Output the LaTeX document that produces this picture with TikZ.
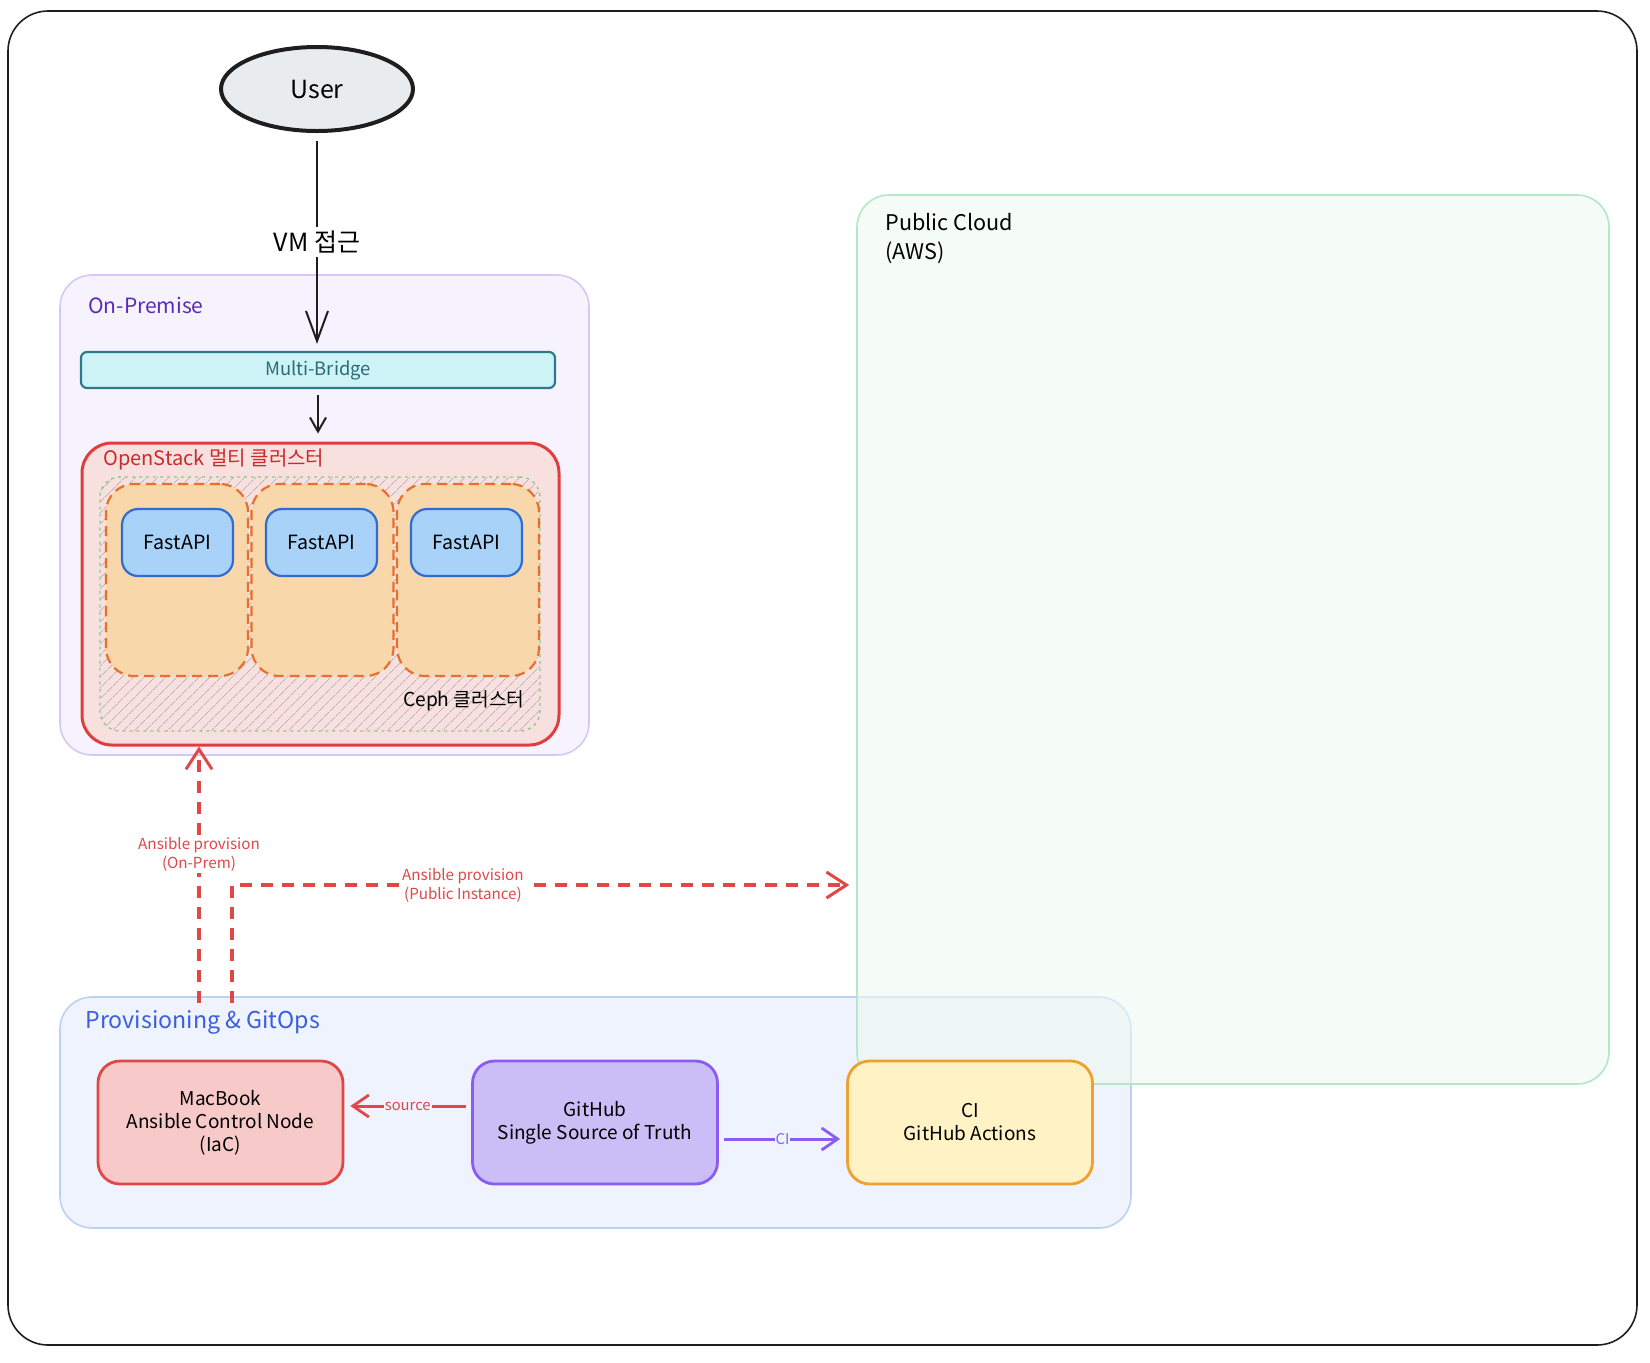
\documentclass[tikz,border=0pt]{standalone}
\usepackage{fontspec}
\setmainfont{Noto Sans CJK KR}
\usetikzlibrary{arrows.meta,shapes.geometric,patterns.meta}
\definecolor{frame}{HTML}{1E1E1E}
\definecolor{userfill}{HTML}{E9ECEF}
\definecolor{onfill}{HTML}{F6F3FE}
\definecolor{onborder}{HTML}{D3C8F6}
\definecolor{ontext}{HTML}{5B2AB5}
\definecolor{mbfill}{HTML}{CDF3F7}
\definecolor{mbborder}{HTML}{2B7A8B}
\definecolor{mbtext}{HTML}{2A6B78}
\definecolor{osfill}{HTML}{F8E0DF}
\definecolor{osborder}{HTML}{E03E3E}
\definecolor{ostext}{HTML}{C92A2A}
\definecolor{cephgreen}{HTML}{8CCB8C}
\definecolor{vmfill}{HTML}{F8D7AA}
\definecolor{vmborder}{HTML}{E8702A}
\definecolor{apifill}{HTML}{A9D2F8}
\definecolor{apiborder}{HTML}{2F6DD0}
\definecolor{pubfill}{HTML}{EEF9F1}
\definecolor{pubborder}{HTML}{B2E8C6}
\definecolor{provfill}{HTML}{EEF3FD}
\definecolor{provborder}{HTML}{BBD2F2}
\definecolor{provtext}{HTML}{3B5FE0}
\definecolor{macfill}{HTML}{F7C9C9}
\definecolor{macborder}{HTML}{E04848}
\definecolor{ghfill}{HTML}{CBBEF7}
\definecolor{ghborder}{HTML}{8A5CF5}
\definecolor{cifill}{HTML}{FFF2C4}
\definecolor{ciborder}{HTML}{F0A030}
\definecolor{redarr}{HTML}{E04848}
\begin{document}
\begin{tikzpicture}[x=0.5pt,y=-0.5pt,
  grp/.style={draw, rounded corners=16pt, line width=0.8pt, inner sep=0pt},
  bx/.style={draw, rounded corners=11pt, line width=1.4pt, align=center, inner sep=0pt,
    minimum width=122.5pt, minimum height=61.5pt, font=\fontsize{9.5}{11.5}\selectfont},
  vmbox/.style={draw=vmborder, fill=vmfill, dash pattern=on 5pt off 3pt, line width=1.1pt,
    rounded corners=14pt, minimum width=71pt, minimum height=96pt, inner sep=0pt},
  api/.style={draw=apiborder, fill=apifill, line width=1.1pt, rounded corners=8pt,
    minimum width=55.5pt, minimum height=33.5pt, inner sep=0pt, font=\fontsize{9.8}{11}\selectfont},
  blackarr/.style={line width=1pt, draw=frame, -{Straight Barb[length=15pt,width=11pt,line width=1pt]}},
  redarr/.style={line width=1.6pt, draw=redarr, dash pattern=on 6pt off 4.5pt,
    -{Straight Barb[length=10pt,width=13pt,line width=1.5pt]}},
  grplbl/.style={anchor=west, inner sep=0pt, font=\fontsize{10.5}{12}\selectfont},
  redlbl/.style={fill=white, text=redarr, align=center, inner sep=1pt, font=\fontsize{7.6}{9.5}\selectfont},
]
\useasboundingbox (0,0) rectangle (1650,1362);
% outer frame
\draw[frame, line width=0.8pt, rounded corners=20pt] (8,11) rectangle (1637,1345);

% User
\node[ellipse, draw=frame, fill=userfill, line width=2pt, minimum width=96pt, minimum height=42pt,
  font=\fontsize{12.5}{14}\selectfont] (user) at (317,89) {User};

% On-Premise group
\node[grp, fill=onfill, draw=onborder, minimum width=264.5pt, minimum height=240pt] (onprem) at (324.5,515) {};
\node[grplbl, text=ontext] (onlbl) at (88,305) {On-Premise};

% Multi-Bridge
\node[draw=mbborder, fill=mbfill, text=mbtext, line width=1.1pt, rounded corners=3pt, inner sep=0pt,
  minimum width=237pt, minimum height=18pt, font=\fontsize{9.2}{10}\selectfont] (mb) at (318,370) {Multi-Bridge};

% OpenStack
\node[grp, fill=osfill, draw=osborder, line width=1.5pt, rounded corners=15pt,
  minimum width=238.5pt, minimum height=151pt] (os) at (320.5,594) {};
\node[grplbl, text=ostext, font=\fontsize{10}{11}\selectfont] (oslbl) at (103,460) {OpenStack 멀티 클러스터};

% Ceph
\node[draw=cephgreen, dash pattern=on 1.5pt off 2pt, line width=0.7pt, rounded corners=10pt,
  pattern={Lines[angle=45,distance=4pt,line width=0.35pt]}, pattern color=black!30,
  minimum width=220pt, minimum height=127pt, inner sep=0pt] (ceph) at (320,604) {};
\node[anchor=east, inner sep=0pt, font=\fontsize{9.6}{11}\selectfont] (cephlbl) at (525,701) {Ceph 클러스터};

% VMs and FastAPI
\node[vmbox] (vm1) at (177,580) {};
\node[vmbox] (vm2) at (322.5,580) {};
\node[vmbox] (vm3) at (468,580) {};
\node[api] (api1) at (177.5,542.5) {FastAPI};
\node[api] (api2) at (321.5,542.5) {FastAPI};
\node[api] (api3) at (466.5,542.5) {FastAPI};

% Provisioning group
\node[grp, fill=provfill, draw=provborder, minimum width=535.5pt, minimum height=115.5pt] (prov) at (595.5,1112.5) {};
\node[grplbl, text=provtext, font=\fontsize{11.6}{13}\selectfont] (provlbl) at (85,1022) {Provisioning \& GitOps};

% Public cloud
\node[grp, fill=pubfill, fill opacity=0.6, draw=pubborder, minimum width=376pt, minimum height=444.5pt] (pub) at (1233,639.5) {};
\node[anchor=north west, align=left, inner sep=0pt, font=\fontsize{10.8}{14.2}\selectfont] (publbl) at (885,213) {Public Cloud\\(AWS)};

% Provisioning boxes
\node[bx, fill=macfill, draw=macborder] (mac) at (220.5,1122.5) {MacBook\\Ansible Control Node\\(IaC)};
\node[bx, fill=ghfill, draw=ghborder] (gh) at (595,1122.5) {GitHub\\Single Source of Truth};
\node[bx, fill=cifill, draw=ciborder] (ci) at (970,1122.5) {CI\\GitHub Actions};

% connectors
\draw[blackarr, shorten <=4pt, shorten >=3.5pt] (user.south) -- node[fill=white, inner sep=2pt, font=\fontsize{12.5}{14}\selectfont] {VM 접근} (user.south |- mb.north);
\draw[line width=1pt, draw=frame, -{Straight Barb[length=7pt,width=8pt,line width=1pt]}, shorten <=3pt, shorten >=4pt] (mb.south) -- (mb.south |- os.north);

\coordinate (srcy) at (0,1106);
\coordinate (ciy) at (0,1139);
\draw[line width=1.5pt, draw=redarr, -{Straight Barb[length=8pt,width=11pt,line width=1.4pt]}, shorten <=2.5pt, shorten >=3pt]
  (gh.west |- srcy) -- node[fill=provfill, text=redarr, inner sep=0.5pt, font=\fontsize{7.4}{8}\selectfont] {source} (mac.east |- srcy);
\draw[line width=1.5pt, draw=ghborder, -{Straight Barb[length=8pt,width=11pt,line width=1.4pt]}, shorten <=2.5pt, shorten >=3pt]
  (gh.east |- ciy) -- node[fill=provfill, text=ghborder, inner sep=0.5pt, font=\fontsize{7.4}{8}\selectfont] {CI} (ci.west |- ciy);

\coordinate (a1) at (199,1003);
\coordinate (a2) at (232,1003);
\coordinate (a2turn) at (232,885);
\draw[redarr] (a1) -- node[pos=0.58, redlbl] {Ansible provision\\(On-Prem)} (a1 |- os.south);
\draw[redarr, shorten >=3.5pt] (a2) -- (a2turn) -- node[pos=0.37, redlbl] {Ansible provision\\(Public Instance)} (pub.west |- a2turn);
\end{tikzpicture}
\end{document}
